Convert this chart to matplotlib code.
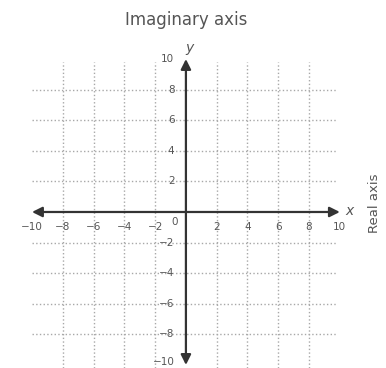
import numpy as np
import matplotlib
matplotlib.use("Agg")
import matplotlib.pyplot as plt

# tick values along both axes
ticks_x = [-10, -8, -6, -4, -2, 2, 4, 6, 8, 10]
ticks_y = [-10, -8, -6, -4, -2, 2, 4, 6, 8, 10]
grid_vals = [-8, -6, -4, -2, 2, 4, 6, 8]

fig = plt.figure(figsize=(3.86, 3.68), dpi=100)
ax = fig.add_axes([0, 0, 1, 1])
ax.set_xlim(-12.08, 13.0)
ax.set_ylim(-10.2, 13.86)
ax.axis('off')

gcol = '#a8a8a8'
# grid
for g in grid_vals:
    ax.plot([g, g], [-10.2, 9.8], color=gcol, ls=':', lw=1.0)
    ax.plot([-10, 9.8], [g, g], color=gcol, ls=':', lw=1.0)

# axes with arrows
acol = '#333333'
ax.annotate('', xy=(10, 0), xytext=(-10, 0),
            arrowprops=dict(arrowstyle='<|-|>', color=acol, lw=1.6,
                            mutation_scale=15, shrinkA=0, shrinkB=0))
ax.annotate('', xy=(0, 10), xytext=(0, -10),
            arrowprops=dict(arrowstyle='<|-|>', color=acol, lw=1.6,
                            mutation_scale=15, shrinkA=0, shrinkB=0))

tcol = '#555555'
for t in ticks_x:
    lab = str(t).replace('-', '\u2212')
    ax.text(t, -0.95, lab, ha='center', va='center', fontsize=7.5, color=tcol)
ax.text(-0.75, -0.65, '0', ha='center', va='center', fontsize=7.5, color=tcol)
for t in ticks_y:
    lab = str(t).replace('-', '\u2212')
    y = t + 0.2 if t == -10 else t
    ax.text(-0.75, y, lab, ha='right', va='center', fontsize=7.5, color=tcol)

ax.text(10.6, 0.05, 'x', style='italic', fontsize=10, color=tcol, ha='center', va='center')
ax.text(0.25, 10.7, 'y', style='italic', fontsize=10, color=tcol, ha='center', va='center')

ax.text(0, 12.55, 'Imaginary axis', ha='center', va='center', fontsize=12, color=tcol)
ax.text(12.25, 0.55, 'Real axis', ha='center', va='center', rotation=90,
        fontsize=9.5, color=tcol)

plt.savefig('out.png', dpi=100)
